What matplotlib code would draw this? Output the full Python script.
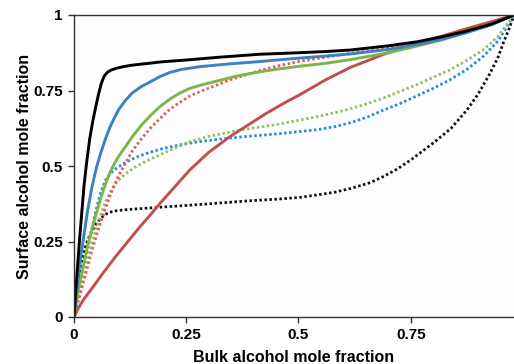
import matplotlib
matplotlib.use("Agg")
import matplotlib.pyplot as plt

plt.rcParams['font.family'] = ['Liberation Sans', 'DejaVu Sans']

# ---- data ----
black_solid_x = [0, 0.003, 0.007, 0.012, 0.017, 0.022, 0.028, 0.035, 0.042, 0.049, 0.055, 0.061, 0.067, 0.074, 0.083, 0.095, 0.11, 0.13, 0.16, 0.196, 0.25, 0.33, 0.414, 0.5, 0.56, 0.615, 0.7, 0.763, 0.82, 0.87, 0.93, 0.98]
black_solid_y = [0, 0.07, 0.15, 0.25, 0.34, 0.43, 0.51, 0.59, 0.65, 0.70, 0.74, 0.774, 0.797, 0.81, 0.818, 0.824, 0.829, 0.834, 0.839, 0.845, 0.851, 0.861, 0.87, 0.875, 0.879, 0.884, 0.898, 0.911, 0.928, 0.945, 0.97, 1.0]

blue_solid_x = [0, 0.005, 0.01, 0.015, 0.022, 0.03, 0.04, 0.05, 0.06, 0.07, 0.08, 0.09, 0.1, 0.115, 0.13, 0.15, 0.169, 0.19, 0.214, 0.24, 0.281, 0.33, 0.414, 0.5, 0.56, 0.615, 0.7, 0.763, 0.82, 0.87, 0.93, 0.98]
blue_solid_y = [0, 0.07, 0.14, 0.2, 0.27, 0.35, 0.43, 0.495, 0.545, 0.59, 0.628, 0.66, 0.688, 0.718, 0.742, 0.763, 0.778, 0.795, 0.81, 0.82, 0.829, 0.836, 0.846, 0.857, 0.864, 0.871, 0.886, 0.902, 0.92, 0.94, 0.968, 1.0]

green_solid_x = [0, 0.005, 0.01, 0.02, 0.03, 0.04, 0.05, 0.06, 0.07, 0.08, 0.09, 0.1, 0.115, 0.13, 0.15, 0.169, 0.19, 0.214, 0.235, 0.258, 0.29, 0.318, 0.36, 0.414, 0.45, 0.5, 0.56, 0.615, 0.7, 0.763, 0.82, 0.87, 0.93, 0.98]
green_solid_y = [0, 0.045, 0.09, 0.165, 0.235, 0.29, 0.345, 0.395, 0.44, 0.478, 0.508, 0.533, 0.565, 0.597, 0.635, 0.665, 0.695, 0.722, 0.741, 0.757, 0.771, 0.781, 0.797, 0.812, 0.82, 0.83, 0.84, 0.852, 0.875, 0.897, 0.918, 0.94, 0.968, 1.0]

red_solid_x = [0, 0.01, 0.02, 0.04, 0.065, 0.09, 0.12, 0.147, 0.17, 0.192, 0.225, 0.258, 0.3, 0.347, 0.39, 0.429, 0.47, 0.503, 0.56, 0.615, 0.69, 0.763, 0.82, 0.875, 0.93, 0.98]
red_solid_y = [0, 0.03, 0.055, 0.095, 0.146, 0.195, 0.25, 0.299, 0.338, 0.377, 0.432, 0.487, 0.545, 0.597, 0.638, 0.675, 0.71, 0.736, 0.785, 0.826, 0.87, 0.905, 0.93, 0.955, 0.978, 1.0]

red_dot_x = [0, 0.01, 0.02, 0.03, 0.04, 0.05, 0.06, 0.07, 0.085, 0.1, 0.115, 0.13, 0.15, 0.17, 0.19, 0.21, 0.235, 0.258, 0.29, 0.318, 0.347, 0.37, 0.414, 0.45, 0.5, 0.56, 0.615, 0.7, 0.763, 0.87, 0.98]
red_dot_y = [0, 0.055, 0.11, 0.165, 0.22, 0.27, 0.315, 0.36, 0.42, 0.47, 0.51, 0.55, 0.59, 0.625, 0.655, 0.683, 0.71, 0.732, 0.752, 0.768, 0.785, 0.796, 0.816, 0.83, 0.846, 0.86, 0.873, 0.89, 0.905, 0.94, 1.0]

blue_dot_x = [0, 0.01, 0.02, 0.03, 0.04, 0.05, 0.06, 0.07, 0.08, 0.09, 0.107, 0.125, 0.145, 0.17, 0.196, 0.236, 0.276, 0.33, 0.392, 0.45, 0.503, 0.54, 0.58, 0.62, 0.655, 0.689, 0.725, 0.76, 0.8, 0.837, 0.875, 0.911, 0.945, 0.98]
blue_dot_y = [0, 0.075, 0.15, 0.225, 0.295, 0.36, 0.415, 0.452, 0.474, 0.488, 0.505, 0.52, 0.533, 0.546, 0.557, 0.57, 0.58, 0.59, 0.599, 0.606, 0.614, 0.62, 0.63, 0.645, 0.663, 0.685, 0.706, 0.73, 0.757, 0.785, 0.82, 0.862, 0.915, 1.0]

green_dot_x = [0, 0.01, 0.02, 0.03, 0.04, 0.05, 0.06, 0.07, 0.08, 0.092, 0.105, 0.12, 0.137, 0.16, 0.196, 0.23, 0.258, 0.3, 0.37, 0.45, 0.503, 0.54, 0.6, 0.65, 0.689, 0.76, 0.837, 0.875, 0.911, 0.945, 0.98]
green_dot_y = [0, 0.065, 0.13, 0.19, 0.245, 0.295, 0.34, 0.38, 0.412, 0.44, 0.462, 0.48, 0.497, 0.516, 0.54, 0.563, 0.58, 0.598, 0.619, 0.637, 0.652, 0.663, 0.683, 0.705, 0.725, 0.767, 0.818, 0.85, 0.884, 0.93, 1.0]

black_dot_x = [0, 0.005, 0.01, 0.015, 0.02, 0.025, 0.032, 0.04, 0.05, 0.06, 0.07, 0.08, 0.095, 0.12, 0.15, 0.196, 0.276, 0.392, 0.45, 0.503, 0.54, 0.58, 0.62, 0.66, 0.689, 0.72, 0.75, 0.8, 0.84, 0.875, 0.9, 0.927, 0.945, 0.956, 0.968, 0.98]
black_dot_y = [0, 0.06, 0.115, 0.16, 0.2, 0.23, 0.26, 0.285, 0.31, 0.328, 0.34, 0.347, 0.352, 0.356, 0.359, 0.364, 0.372, 0.385, 0.39, 0.396, 0.404, 0.413, 0.427, 0.445, 0.465, 0.49, 0.52, 0.576, 0.625, 0.685, 0.738, 0.808, 0.862, 0.907, 0.95, 1.0]

x_ticks = [0, 0.25, 0.5, 0.75]
x_tick_labels = ['0', '0.25', '0.5', '0.75']
y_ticks = [0, 0.25, 0.5, 0.75, 1]
y_tick_labels = ['0', '0.25', '0.5', '0.75', '1']

# ---- figure ----
fig = plt.figure(figsize=(5.14, 3.64), dpi=100)
fig.patch.set_facecolor('white')
ax = fig.add_axes([74/514, 47/364, 440/514, 302/364])
ax.set_facecolor('#fdfdff')

dot = (0, (0.9, 0.9))
lw_dot = 2.0
lw_sol = 2.1
ax.plot(black_dot_x, black_dot_y, color='#111111', lw=lw_dot, ls=dot)
ax.plot(blue_dot_x, blue_dot_y, color='#1f8fdb', lw=lw_dot, ls=dot)
ax.plot(green_dot_x, green_dot_y, color='#95c062', lw=lw_dot, ls=dot)
ax.plot(red_dot_x, red_dot_y, color='#e0605a', lw=lw_dot, ls=dot)
ax.plot(red_solid_x, red_solid_y, color='#c0504d', lw=lw_sol, solid_joinstyle='round')
ax.plot(green_solid_x, green_solid_y, color='#7db54a', lw=lw_sol, solid_joinstyle='round')
ax.plot(blue_solid_x, blue_solid_y, color='#3e80c4', lw=lw_sol, solid_joinstyle='round')
ax.plot(black_solid_x, black_solid_y, color='#000000', lw=lw_sol, solid_joinstyle='round')

ax.set_xlim(0, 0.98)
ax.set_ylim(0, 1)
ax.set_xticks(x_ticks)
ax.set_xticklabels(x_tick_labels)
ax.set_yticks(y_ticks)
ax.set_yticklabels(y_tick_labels)
for lab in ax.get_xticklabels() + ax.get_yticklabels():
    lab.set_fontweight('bold')
    lab.set_fontsize(11)
ax.tick_params(axis='both', direction='out', length=4, width=1, color='#333333', pad=4)

for s in ['left', 'bottom', 'top']:
    ax.spines[s].set_color('#333333')
    ax.spines[s].set_linewidth(1.0)
ax.spines['right'].set_visible(False)

ax.set_xlabel('Bulk alcohol mole fraction', fontsize=11.5, fontweight='bold', labelpad=6)
ax.set_ylabel('Surface alcohol mole fraction', fontsize=11.5, fontweight='bold', labelpad=1)

fig.savefig('out.png', dpi=100)
